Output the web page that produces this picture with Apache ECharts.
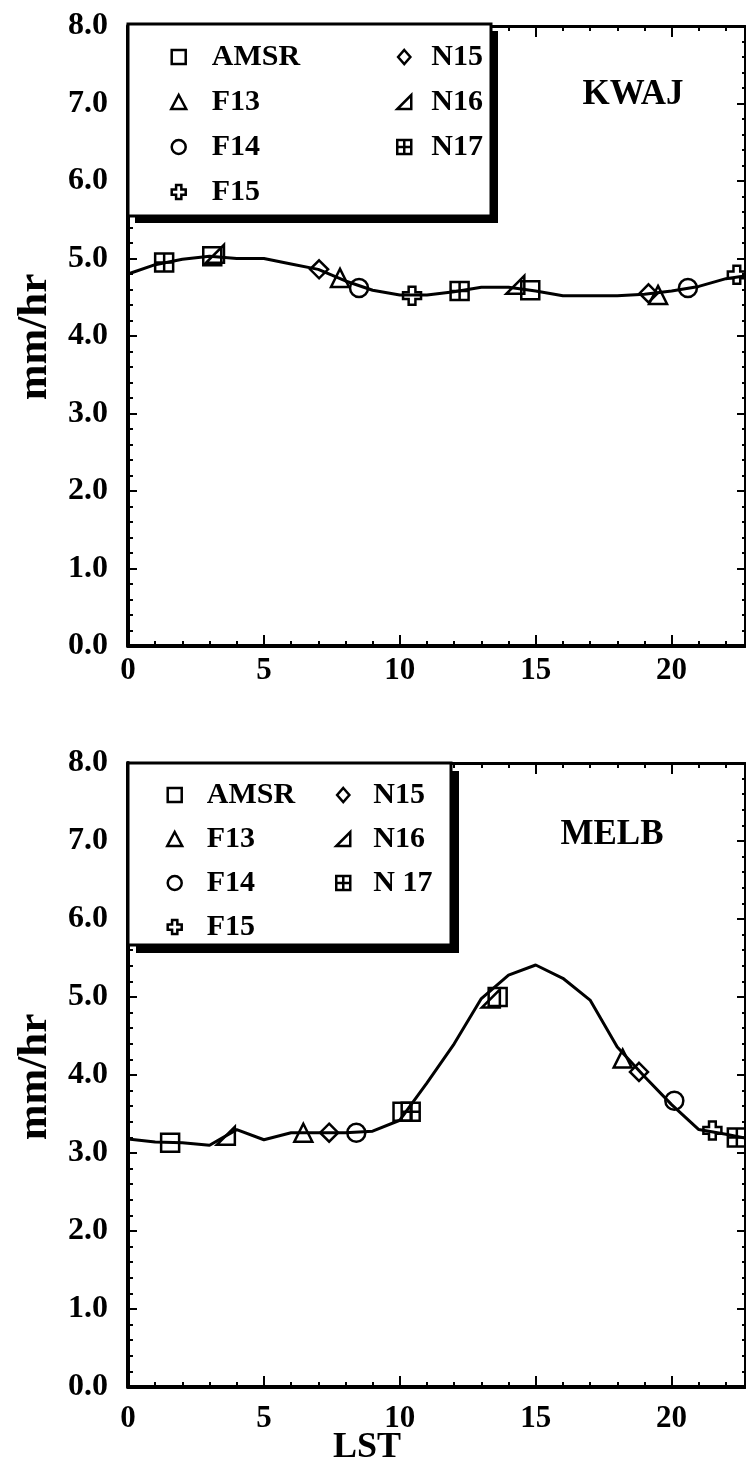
<!DOCTYPE html>
<html><head><meta charset="utf-8">
<script src="https://cdn.jsdelivr.net/npm/echarts@6/dist/echarts.min.js"></script>
<style>html,body{margin:0;padding:0;background:#fff}#c{width:746px;height:1466px}</style>
</head><body><div id="c"></div>
<script>
// ---------- data ----------
const hours = [0,1,2,3,4,5,6,7,8,9,10,11,12,13,14,15,16,17,18,19,20,21,22,23];
const kwajCurve = [4.80,4.92,4.99,5.03,5.00,5.00,4.93,4.86,4.71,4.59,4.53,4.53,4.57,4.63,4.63,4.58,4.52,4.52,4.52,4.54,4.58,4.64,4.74,4.79];
const melbCurve = [3.18,3.14,3.13,3.10,3.30,3.17,3.26,3.26,3.26,3.28,3.42,3.90,4.40,4.98,5.28,5.41,5.24,4.96,4.36,3.98,3.62,3.30,3.24,3.17];

const kwajAMSR = [[3.1,5.03],[14.8,4.59]];
const kwajF13  = [[7.8,4.75],[19.5,4.53]];
const kwajF14  = [[8.5,4.62],[20.6,4.62]];
const kwajF15  = [[10.45,4.52],[22.4,4.79]];
const kwajN15  = [[7.03,4.86],[19.15,4.55]];
const kwajN16  = [[3.2,5.06],[14.25,4.66]];
const kwajN17  = [[1.33,4.95],[12.2,4.58]];

const melbAMSR = [[1.55,3.13],[10.1,3.53],[13.6,5.0]];
const melbF13  = [[6.45,3.26],[18.2,4.21]];
const melbF14  = [[8.4,3.26],[20.1,3.67]];
const melbF15  = [[21.5,3.29]];
const melbN15  = [[7.4,3.26],[18.8,4.04]];
const melbN16  = [[3.6,3.22],[13.35,4.98]];
const melbN17  = [[10.4,3.53],[22.4,3.20]];

const xTickValues = [0,5,10,15,20];
const yTickLabels = ['0.0','1.0','2.0','3.0','4.0','5.0','6.0','7.0','8.0'];
const namesCol1 = ['AMSR','F13','F14','F15'];
const kwajCol2 = ['N15','N16','N17'];
const melbCol2 = ['N15','N16','N 17'];
const X_MAX = 22.7;

// ---------- symbols ----------
const SYM = {
  AMSR: 'path://M0 0L16 0L16 16L0 16Z',
  F13: 'path://M8 0L16 15L0 15Z',
  F14: 'path://M0 8A8 8 0 1 1 16 8A8 8 0 1 1 0 8Z',
  F15: 'path://M5 0L11 0L11 5L16 5L16 11L11 11L11 16L5 16L5 11L0 11L0 5L5 5Z',
  N15: 'path://M8 0L15 8L8 16L1 8Z',
  N16: 'path://M0 16L16 16L16 0Z',
  N17: 'path://M0 0L16 0L16 16L0 16Z M8 0L8 16 M0 8L16 8'
};

const FONT = 'Liberation Serif';
const BLK = '#000';
function lbl(size) { return {color:BLK, fontFamily:FONT, fontWeight:'bold', fontSize:size}; }

function xAxes(g, labelMargin) {
  const base = {gridIndex:g, type:'value', min:0, max:X_MAX, splitLine:{show:false}};
  return [
    Object.assign({}, base, {position:'bottom', interval:5,
      axisLine:{onZero:false, lineStyle:{color:BLK, width:4}},
      axisTick:{inside:true, length:11, lineStyle:{color:BLK, width:2}},
      axisLabel:Object.assign({margin:labelMargin, showMaxLabel:false,
        formatter: v => xTickValues.indexOf(v) >= 0 ? String(v) : ''}, lbl(31))}),
    Object.assign({}, base, {position:'bottom', interval:1,
      axisLine:{show:false, onZero:false},
      axisTick:{inside:true, length:5, lineStyle:{color:BLK, width:2}},
      axisLabel:{show:false}}),
    Object.assign({}, base, {position:'top', interval:5,
      axisLine:{onZero:false, lineStyle:{color:BLK, width:3}},
      axisTick:{inside:true, length:11, lineStyle:{color:BLK, width:2}},
      axisLabel:{show:false}}),
    Object.assign({}, base, {position:'top', interval:1,
      axisLine:{show:false, onZero:false},
      axisTick:{inside:true, length:5, lineStyle:{color:BLK, width:2}},
      axisLabel:{show:false}})
  ];
}
function yAxes(g) {
  const base = {gridIndex:g, type:'value', min:0, max:8, interval:1, splitLine:{show:false}};
  return [
    Object.assign({}, base, {position:'left',
      axisLine:{onZero:false, lineStyle:{color:BLK, width:4}},
      axisTick:{inside:true, length:9, lineStyle:{color:BLK, width:2}},
      minorTick:{show:true, splitNumber:5, length:5, lineStyle:{color:BLK, width:2}},
      axisLabel:Object.assign({margin:20, formatter: v => yTickLabels[Math.round(v)]}, lbl(32))}),
    Object.assign({}, base, {position:'right',
      axisLine:{onZero:false, lineStyle:{color:BLK, width:2}},
      axisTick:{inside:true, length:8, lineStyle:{color:BLK, width:2}},
      minorTick:{show:true, splitNumber:5, length:3, lineStyle:{color:BLK, width:2}},
      axisLabel:{show:false}})
  ];
}

function seriesFor(g, curve, pts) {
  const xi = g * 4, yi = g * 2;
  const out = [{
    type:'line', xAxisIndex:xi, yAxisIndex:yi, data: hours.map((h,i)=>[h, curve[i]]),
    showSymbol:false, symbol:'none', lineStyle:{color:BLK, width:3}, z:2, silent:true
  }];
  pts.forEach(p => {
    out.push({
      type:'scatter', name:p.name, xAxisIndex:xi, yAxisIndex:yi, data:p.data,
      symbol:SYM[p.sym], symbolSize:18, z:3,
      itemStyle:{color:'rgba(0,0,0,0)', borderColor:BLK, borderWidth:2.5, opacity:1}
    });
  });
  return out;
}

const kwajPts = [
  {name:'AMSR', sym:'AMSR', data:kwajAMSR},{name:'F13', sym:'F13', data:kwajF13},
  {name:'F14', sym:'F14', data:kwajF14},{name:'F15', sym:'F15', data:kwajF15},
  {name:'N15', sym:'N15', data:kwajN15},{name:'N16', sym:'N16', data:kwajN16},
  {name:'N17', sym:'N17', data:kwajN17}];
const melbPts = [
  {name:'AMSR', sym:'AMSR', data:melbAMSR},{name:'F13', sym:'F13', data:melbF13},
  {name:'F14', sym:'F14', data:melbF14},{name:'F15', sym:'F15', data:melbF15},
  {name:'N15', sym:'N15', data:melbN15},{name:'N16', sym:'N16', data:melbN16},
  {name:'N 17', sym:'N17', data:melbN17}];

function legendOf(names, left, top, w, gap) {
  return {data:names, orient:'vertical', left:left, top:top, padding:0,
    itemWidth:w, itemHeight:14, itemGap:gap, selectedMode:false, z:30,
    itemStyle:{color:'rgba(0,0,0,0)', borderColor:BLK, borderWidth:2.5},
    textStyle:{color:BLK, fontFamily:FONT, fontWeight:'bold', fontSize:30}};
}

function txt(text, x, y, size, rot) {
  return {type:'text', x:x, y:y, rotation:rot||0, z:40,
    style:{text:text, fill:BLK, font:'bold '+size+'px "'+FONT+'"', textAlign:'center', textVerticalAlign:'middle'}};
}
function box(x, y, w, h, off) {
  return [
    {type:'rect', z:20, shape:{x:x+off, y:y+off, width:w, height:h}, style:{fill:BLK}},
    {type:'rect', z:21, shape:{x:x, y:y, width:w, height:h}, style:{fill:'#fff', stroke:BLK, lineWidth:3}}
  ];
}

const option = {
  animation:false,
  backgroundColor:'#fff',
  grid:[
    {left:128, right:1, top:26, height:620},
    {left:128, right:1, top:763, height:624}
  ],
  xAxis: xAxes(0, 9).concat(xAxes(1, 16)),
  yAxis: yAxes(0).concat(yAxes(1)),
  legend:[
    legendOf(namesCol1, 170, 42, 56, 15),
    legendOf(kwajCol2, 396, 42, 44, 15),
    legendOf(namesCol1, 166, 780, 54, 14),
    legendOf(melbCol2, 335, 780, 50, 14)
  ],
  graphic:[].concat(
    box(128, 24, 363, 192, 7),
    box(128, 763, 323, 182, 8),
    [txt('KWAJ', 633, 95, 35), txt('MELB', 612, 835, 35),
     txt('mm/hr', 35, 337, 43, Math.PI/2), txt('mm/hr', 35, 1077, 43, Math.PI/2),
     txt('LST', 367, 1448, 36)]
  ),
  series: seriesFor(0, kwajCurve, kwajPts).concat(seriesFor(1, melbCurve, melbPts))
};
const chart = echarts.init(document.getElementById('c'), null, {renderer:'canvas'});
chart.setOption(option);
</script></body></html>
